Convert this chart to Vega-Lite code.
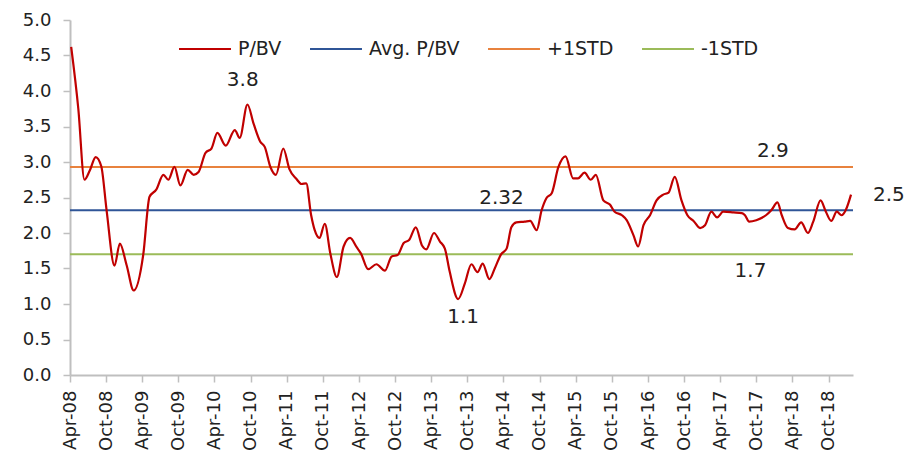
{
  "$schema": "https://vega.github.io/schema/vega-lite/v6.json",
  "width": 783,
  "height": 355,
  "autosize": {"type": "none"},
  "padding": {"left": 70, "top": 20, "right": 67, "bottom": 86},
  "background": "white",
  "config": {"view": {"stroke": null}, "font": "DejaVu Sans"},
  "datasets": {
    "pbv": [
      {"date": "2008-04-07", "value": 4.62},
      {"date": "2008-05-13", "value": 3.75},
      {"date": "2008-06-13", "value": 2.75},
      {"date": "2008-07-10", "value": 2.88},
      {"date": "2008-08-09", "value": 3.07},
      {"date": "2008-09-06", "value": 2.94},
      {"date": "2008-10-03", "value": 2.32},
      {"date": "2008-11-12", "value": 1.54},
      {"date": "2008-12-09", "value": 1.85},
      {"date": "2009-01-12", "value": 1.55},
      {"date": "2009-02-17", "value": 1.19},
      {"date": "2009-04-06", "value": 1.69},
      {"date": "2009-05-08", "value": 2.51},
      {"date": "2009-06-11", "value": 2.61},
      {"date": "2009-07-17", "value": 2.82},
      {"date": "2009-08-11", "value": 2.75},
      {"date": "2009-09-11", "value": 2.93},
      {"date": "2009-10-11", "value": 2.67},
      {"date": "2009-11-17", "value": 2.89},
      {"date": "2009-12-17", "value": 2.82},
      {"date": "2010-01-11", "value": 2.86},
      {"date": "2010-02-15", "value": 3.13},
      {"date": "2010-03-17", "value": 3.19},
      {"date": "2010-04-16", "value": 3.41},
      {"date": "2010-05-28", "value": 3.23},
      {"date": "2010-07-13", "value": 3.45},
      {"date": "2010-08-07", "value": 3.34},
      {"date": "2010-09-15", "value": 3.81},
      {"date": "2010-10-16", "value": 3.54},
      {"date": "2010-11-18", "value": 3.29},
      {"date": "2010-12-12", "value": 3.21},
      {"date": "2011-01-09", "value": 2.93},
      {"date": "2011-02-06", "value": 2.82},
      {"date": "2011-03-15", "value": 3.19},
      {"date": "2011-04-15", "value": 2.90},
      {"date": "2011-05-21", "value": 2.76},
      {"date": "2011-06-15", "value": 2.69},
      {"date": "2011-07-09", "value": 2.70},
      {"date": "2011-08-03", "value": 2.25},
      {"date": "2011-08-21", "value": 2.04},
      {"date": "2011-09-14", "value": 1.93},
      {"date": "2011-10-11", "value": 2.13},
      {"date": "2011-11-08", "value": 1.71},
      {"date": "2011-12-11", "value": 1.38},
      {"date": "2012-01-14", "value": 1.81},
      {"date": "2012-02-16", "value": 1.93},
      {"date": "2012-03-20", "value": 1.80},
      {"date": "2012-04-11", "value": 1.71},
      {"date": "2012-05-17", "value": 1.49},
      {"date": "2012-06-28", "value": 1.56},
      {"date": "2012-08-10", "value": 1.47},
      {"date": "2012-09-13", "value": 1.67},
      {"date": "2012-10-13", "value": 1.69},
      {"date": "2012-11-13", "value": 1.86},
      {"date": "2012-12-10", "value": 1.90},
      {"date": "2013-01-13", "value": 2.08},
      {"date": "2013-02-14", "value": 1.82},
      {"date": "2013-03-07", "value": 1.77},
      {"date": "2013-04-15", "value": 2.00},
      {"date": "2013-05-15", "value": 1.88},
      {"date": "2013-06-09", "value": 1.78},
      {"date": "2013-07-03", "value": 1.46},
      {"date": "2013-08-15", "value": 1.07},
      {"date": "2013-09-18", "value": 1.29},
      {"date": "2013-10-21", "value": 1.56},
      {"date": "2013-11-21", "value": 1.45},
      {"date": "2013-12-17", "value": 1.57},
      {"date": "2014-01-20", "value": 1.35},
      {"date": "2014-02-16", "value": 1.50},
      {"date": "2014-03-20", "value": 1.70},
      {"date": "2014-04-17", "value": 1.78},
      {"date": "2014-05-11", "value": 2.08},
      {"date": "2014-06-05", "value": 2.15},
      {"date": "2014-07-17", "value": 2.16},
      {"date": "2014-08-14", "value": 2.17},
      {"date": "2014-09-16", "value": 2.04},
      {"date": "2014-10-11", "value": 2.32},
      {"date": "2014-11-04", "value": 2.49},
      {"date": "2014-12-01", "value": 2.56},
      {"date": "2015-01-04", "value": 2.93},
      {"date": "2015-02-09", "value": 3.08},
      {"date": "2015-03-19", "value": 2.77},
      {"date": "2015-04-13", "value": 2.77},
      {"date": "2015-05-16", "value": 2.85},
      {"date": "2015-06-16", "value": 2.75},
      {"date": "2015-07-12", "value": 2.82},
      {"date": "2015-08-19", "value": 2.46},
      {"date": "2015-09-21", "value": 2.40},
      {"date": "2015-10-15", "value": 2.30},
      {"date": "2015-11-21", "value": 2.25},
      {"date": "2015-12-15", "value": 2.18},
      {"date": "2016-01-18", "value": 1.97},
      {"date": "2016-02-11", "value": 1.81},
      {"date": "2016-03-09", "value": 2.11},
      {"date": "2016-04-11", "value": 2.25},
      {"date": "2016-05-14", "value": 2.46},
      {"date": "2016-06-17", "value": 2.54},
      {"date": "2016-07-14", "value": 2.57},
      {"date": "2016-08-14", "value": 2.79},
      {"date": "2016-09-17", "value": 2.46},
      {"date": "2016-10-17", "value": 2.25},
      {"date": "2016-11-17", "value": 2.17},
      {"date": "2016-12-20", "value": 2.07},
      {"date": "2017-01-14", "value": 2.11},
      {"date": "2017-02-15", "value": 2.30},
      {"date": "2017-03-16", "value": 2.22},
      {"date": "2017-04-16", "value": 2.30},
      {"date": "2017-06-07", "value": 2.29},
      {"date": "2017-07-19", "value": 2.28},
      {"date": "2017-08-04", "value": 2.25},
      {"date": "2017-08-25", "value": 2.16},
      {"date": "2017-09-30", "value": 2.18},
      {"date": "2017-11-18", "value": 2.25},
      {"date": "2017-12-15", "value": 2.32},
      {"date": "2018-01-15", "value": 2.43},
      {"date": "2018-02-06", "value": 2.25},
      {"date": "2018-03-09", "value": 2.07},
      {"date": "2018-04-12", "value": 2.05},
      {"date": "2018-05-15", "value": 2.15},
      {"date": "2018-06-18", "value": 2.00},
      {"date": "2018-07-15", "value": 2.16},
      {"date": "2018-08-21", "value": 2.46},
      {"date": "2018-09-17", "value": 2.30},
      {"date": "2018-10-14", "value": 2.17},
      {"date": "2018-11-11", "value": 2.30},
      {"date": "2018-12-05", "value": 2.25},
      {"date": "2018-12-26", "value": 2.32},
      {"date": "2019-01-22", "value": 2.54}
    ],
    "refs": [
      {"series": "Avg. P/BV", "value": 2.32},
      {"series": "+1STD", "value": 2.93},
      {"series": "-1STD", "value": 1.70}
    ],
    "labels": [
      {"date": "2010-08-22", "value": 4.15, "label": "3.8"},
      {"date": "2014-03-22", "value": 2.50, "label": "2.32"},
      {"date": "2017-12-23", "value": 3.15, "label": "2.9"},
      {"date": "2017-09-01", "value": 1.47, "label": "1.7"},
      {"date": "2013-09-09", "value": 0.82, "label": "1.1"},
      {"date": "2019-08-01", "value": 2.54, "label": "2.5"}
    ]
  },
  "layer": [
    {
      "data": {"name": "refs"},
      "mark": {"type": "rule", "strokeWidth": 2},
      "encoding": {
        "y": {
          "field": "value", "type": "quantitative",
          "scale": {"domain": [0, 5], "nice": false, "zero": true},
          "axis": {
            "values": [0, 0.5, 1, 1.5, 2, 2.5, 3, 3.5, 4, 4.5, 5],
            "tickCount": 40, "labelOverlap": false,
            "format": ".1f", "title": null, "grid": false,
            "tickSize": 7, "tickColor": "#bfbfbf", "tickWidth": 1.5,
            "domainColor": "#bfbfbf", "domainWidth": 2,
            "labelFontSize": 18, "labelFont": "DejaVu Sans", "labelColor": "#222",
            "labelPadding": 12
          }
        },
        "color": {
          "field": "series", "type": "nominal",
          "scale": {
            "domain": ["P/BV", "Avg. P/BV", "+1STD", "-1STD"],
            "range": ["#C00000", "#2F5597", "#E8823D", "#9BBB59"]
          },
          "legend": {
            "orient": "none", "legendX": 108, "legendY": 2,
            "direction": "horizontal", "title": null,
            "symbolType": "stroke", "symbolSize": 2700, "symbolStrokeWidth": 2,
            "labelFontSize": 19, "labelFont": "DejaVu Sans", "labelColor": "#222",
            "labelOffset": 6, "columnPadding": 24, "padding": 0
          }
        }
      }
    },
    {
      "data": {"name": "pbv"},
      "mark": {"type": "line", "interpolate": "monotone", "strokeWidth": 2.2},
      "encoding": {
        "x": {
          "field": "date", "type": "temporal",
          "scale": {
            "type": "utc",
            "domain": [
              {"year": 2008, "month": 4, "date": 1, "utc": true},
              {"year": 2019, "month": 2, "date": 1, "utc": true}
            ]
          },
          "axis": {
            "values": [
              {"year": 2008, "month": 4, "date": 1, "utc": true},
              {"year": 2008, "month": 10, "date": 1, "utc": true},
              {"year": 2009, "month": 4, "date": 1, "utc": true},
              {"year": 2009, "month": 10, "date": 1, "utc": true},
              {"year": 2010, "month": 4, "date": 1, "utc": true},
              {"year": 2010, "month": 10, "date": 1, "utc": true},
              {"year": 2011, "month": 4, "date": 1, "utc": true},
              {"year": 2011, "month": 10, "date": 1, "utc": true},
              {"year": 2012, "month": 4, "date": 1, "utc": true},
              {"year": 2012, "month": 10, "date": 1, "utc": true},
              {"year": 2013, "month": 4, "date": 1, "utc": true},
              {"year": 2013, "month": 10, "date": 1, "utc": true},
              {"year": 2014, "month": 4, "date": 1, "utc": true},
              {"year": 2014, "month": 10, "date": 1, "utc": true},
              {"year": 2015, "month": 4, "date": 1, "utc": true},
              {"year": 2015, "month": 10, "date": 1, "utc": true},
              {"year": 2016, "month": 4, "date": 1, "utc": true},
              {"year": 2016, "month": 10, "date": 1, "utc": true},
              {"year": 2017, "month": 4, "date": 1, "utc": true},
              {"year": 2017, "month": 10, "date": 1, "utc": true},
              {"year": 2018, "month": 4, "date": 1, "utc": true},
              {"year": 2018, "month": 10, "date": 1, "utc": true}
            ],
            "tickCount": 60,
            "format": "%b-%y", "title": null, "grid": false,
            "labelAngle": -90, "labelAlign": "right", "labelBaseline": "middle",
            "labelOverlap": false, "labelFlush": false,
            "tickSize": 7, "tickColor": "#bfbfbf", "tickWidth": 1.5,
            "domainColor": "#bfbfbf", "domainWidth": 2,
            "labelFontSize": 18, "labelFont": "DejaVu Sans", "labelColor": "#222",
            "labelPadding": 8
          }
        },
        "y": {"field": "value", "type": "quantitative"},
        "color": {"datum": "P/BV", "type": "nominal"}
      }
    },
    {
      "data": {"name": "labels"},
      "mark": {"type": "text", "fontSize": 20, "font": "DejaVu Sans", "color": "#222", "align": "center", "baseline": "middle"},
      "encoding": {
        "x": {"field": "date", "type": "temporal"},
        "y": {"field": "value", "type": "quantitative"},
        "text": {"field": "label"}
      }
    }
  ]
}
